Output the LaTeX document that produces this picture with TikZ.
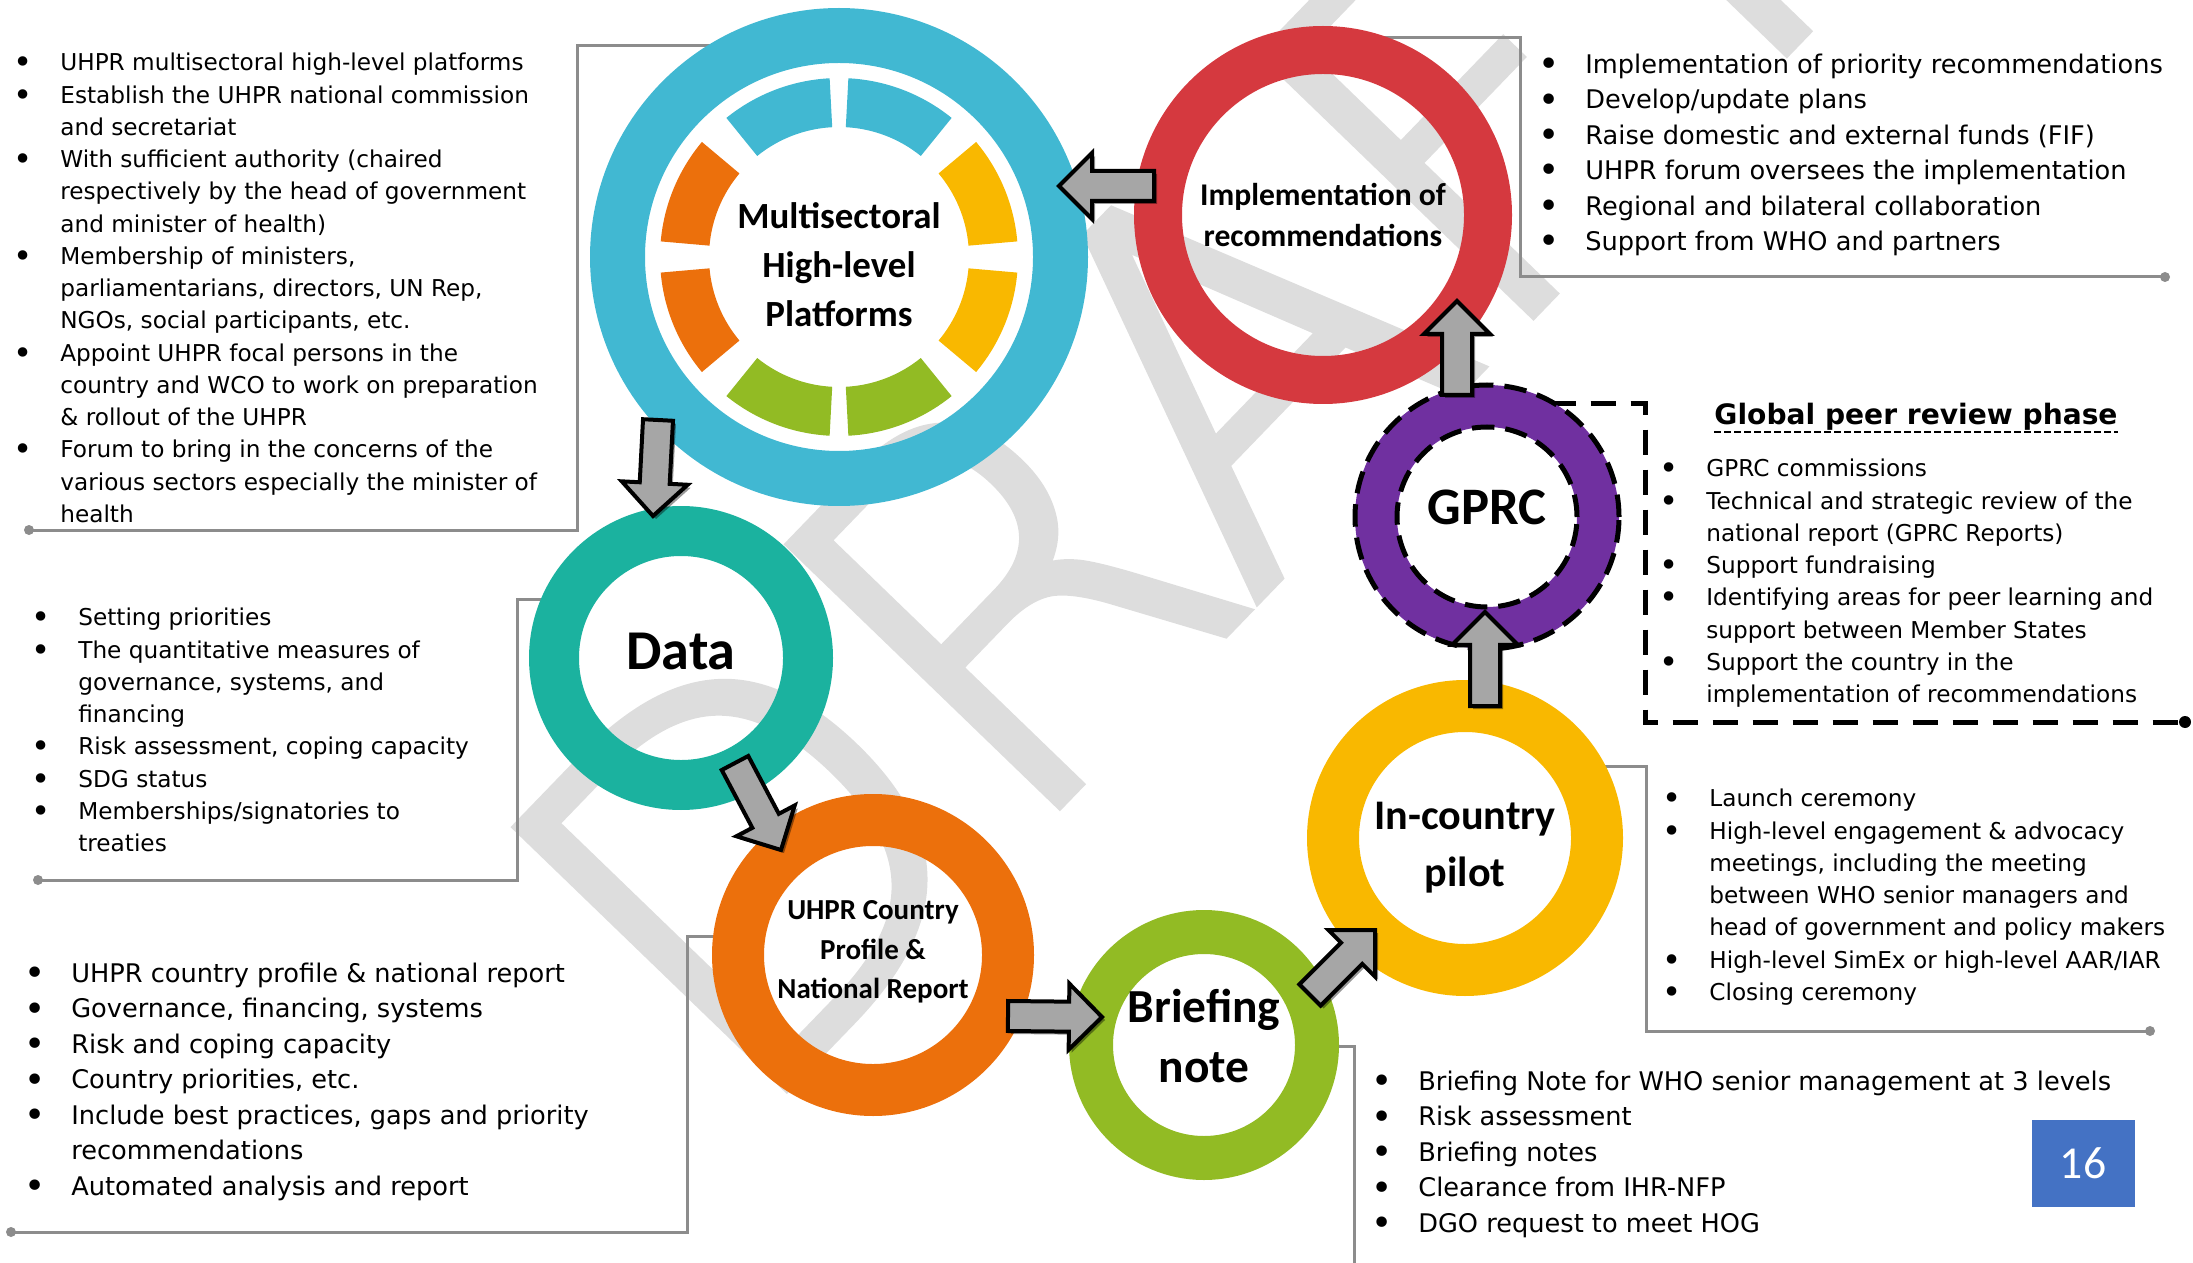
\documentclass[tikz,border=0pt]{standalone}
\usepackage{fontspec}
\usepackage{graphicx}
\setmainfont{DejaVu Sans}
\newfontfamily\circfont{Carlito}
\IfFontExistsTF{DejaVu Sans ExtraLight}{\newfontfamily\wmfont{DejaVu Sans ExtraLight}[FakeBold=2.5]}{\newfontfamily\wmfont{DejaVu Sans}}
\usepackage{tikz}
\usetikzlibrary{calc,shadows,backgrounds}

\definecolor{msblue}{HTML}{41B8D2}
\definecolor{implred}{HTML}{D5393F}
\definecolor{gprcpurple}{HTML}{7030A0}
\definecolor{datateal}{HTML}{1BB29F}
\definecolor{uhprorange}{HTML}{EC700C}
\definecolor{briefgreen}{HTML}{92BB24}
\definecolor{pilotyellow}{HTML}{F9B800}
\definecolor{framegray}{HTML}{8C8C8C}
\definecolor{pageblue}{HTML}{4472C4}
\definecolor{wmgray}{HTML}{DDDDDD}

\newcommand{\bu}{\strut\makebox[0.94cm][l]{\raisebox{-0.13em}{\scalebox{1.4}{\textbullet}}}}
\newcommand{\nb}{\strut\hspace*{0.94cm}}
% grey block arrow from #1 to #2
\newcommand{\blockarrow}[2]{%
  \coordinate (bahead) at ($(#2)!0.66cm!(#1)$);
  \draw[blockarrow] ($(#1)!0.3cm!90:(#2)$) -- ($(bahead)!0.3cm!90:(#2)$)
    -- ($(bahead)!0.66cm!90:(#2)$) -- (#2) -- ($(bahead)!0.66cm!-90:(#2)$)
    -- ($(bahead)!0.3cm!-90:(#2)$) -- ($(#1)!0.3cm!-90:(#2)$) -- cycle;}

\begin{document}
\begin{tikzpicture}[x=0.02cm, y=0.02cm,
    ring/.style={circle, inner sep=0pt, outer sep=0pt},
    ringlabel/.style={inner sep=0pt, align=center},
    notes/.style={anchor=north west, inner sep=0pt, align=left},
    smallnotes/.style={font=\fontsize{13.2}{18.35}\selectfont},
    largenotes/.style={font=\fontsize{14.6}{20.2}\selectfont},
    frameline/.style={draw=framegray, line width=0.06cm},
    gprcline/.style={draw=black, line width=0.1cm, dash pattern=on 0.5cm off 0.3cm},
    ringdash/.style={draw=black, line width=0.1cm, dash pattern=on 0.45cm off 0.22cm},
    blockarrow/.style={fill=gray!70, draw=black, line width=0.08cm, line join=miter,
      drop shadow={shadow xshift=0.06cm, shadow yshift=-0.06cm, opacity=0.4, fill=black}}
]
\useasboundingbox (0,0) rectangle (2193,-1263);
\clip (0,0) rectangle (2193,-1263);

% circles
\node[ring, draw=msblue, line width=1.1cm, minimum size=443*0.02cm] (ms) at (839,-257) {};
\node[ring, draw=implred, line width=0.96cm, minimum size=330*0.02cm] (impl) at (1323,-215) {};
\node[ring, draw=gprcpurple, line width=0.84cm, minimum size=222*0.02cm] (gprc) at (1487,-517) {};
\node[ring, draw=datateal, line width=1.0cm, minimum size=254*0.02cm] (data) at (681,-658) {};
\node[ring, draw=uhprorange, line width=1.04cm, minimum size=270*0.02cm] (uhpr) at (873,-955) {};
\node[ring, draw=briefgreen, line width=0.88cm, minimum size=226*0.02cm] (brief) at (1204,-1045) {};
\node[ring, draw=pilotyellow, line width=1.04cm, minimum size=264*0.02cm] (pilot) at (1465,-838) {};

% circle texts
\node[ringlabel, font=\circfont\bfseries\fontsize{21}{27.8}\selectfont] (mstext) at ($(ms)+(0,-8)$) {Multisectoral\\High-level\\Platforms};
\node[ringlabel, font=\circfont\bfseries\fontsize{18}{23.8}\selectfont] (impltext) at (impl) {Implementation of\\recommendations};
\node[ringlabel, font=\circfont\bfseries\fontsize{30}{36}\selectfont] (gprctext) at ($(gprc)+(0,10)$) {GPRC};
\node[ringlabel, font=\circfont\bfseries\fontsize{32}{38}\selectfont] (datatext) at ($(data)+(0,7)$) {Data};
\node[ringlabel, font=\circfont\bfseries\fontsize{16.5}{22.4}\selectfont] (uhprtext) at ($(uhpr)+(0,3)$) {UHPR Country\\Profile \&\\National Report};
\node[ringlabel, font=\circfont\bfseries\fontsize{27}{34}\selectfont] (brieftext) at ($(brief)+(0,9)$) {Briefing\\note};
\node[ringlabel, font=\circfont\bfseries\fontsize{24}{32.3}\selectfont] (pilottext) at ($(pilot)+(0,-10)$) {In-country\\pilot};

% segments inside the multisectoral circle
\foreach \a/\b/\c in {93/129/msblue, 140/175/uhprorange, 185/220/uhprorange, 231/267/briefgreen,
    273/309/briefgreen, 320/355/pilotyellow, 365/400/pilotyellow, 411/447/msblue}
  \fill[\c] ($(ms.center)+(\a:3.58cm)$) arc[start angle=\a, end angle=\b, radius=3.58cm]
    -- ($(ms.center)+(\b:2.6cm)$) arc[start angle=\b, end angle=\a, radius=2.6cm] -- cycle;

% dashed edges of the GPRC circle
\draw[ringdash] (gprc.center) circle[radius=132*0.02cm];
\draw[ringdash] (gprc.center) circle[radius=90*0.02cm];

% corners of the note frames
\coordinate (fa1) at (577,-46);   \coordinate (fa2) at (577,-530);   \coordinate (fa3) at (29,-530);
\coordinate (fb1) at (1520,-38);  \coordinate (fb2) at (1520,-277);  \coordinate (fb3) at (2165,-277);
\coordinate (fc1) at (1645,-404); \coordinate (fc2) at (1645,-722);  \coordinate (fc3) at (2185,-722);
\coordinate (fd1) at (517,-599);  \coordinate (fd2) at (517,-880);   \coordinate (fd3) at (38,-880);
\coordinate (fe1) at (687,-936);  \coordinate (fe2) at (687,-1232);  \coordinate (fe3) at (11,-1232);
\coordinate (ff1) at (1646,-766); \coordinate (ff2) at (1646,-1031); \coordinate (ff3) at (2150,-1031);
\coordinate (fg1) at (1354,-1046); \coordinate (fg2) at (1354,-1290); \coordinate (fg3) at (2141,-1290);

\begin{pgfonlayer}{background}
% watermark
\node[rotate=46, text=wmgray, inner sep=0pt, font=\wmfont\fontsize{290}{290}\selectfont] (draft) at (1190,-400) {DRAFT};
% frames to the notes
\draw[frameline] (ms.110 |- fa1) -- (fa1) -- (fa2) -- (fa3);
\draw[frameline] (impl.70 |- fb1) -- (fb1) -- (fb2) -- (fb3);
\draw[frameline] (data.200 |- fd1) -- (fd1) -- (fd2) -- (fd3);
\draw[frameline] (uhpr.180 |- fe1) -- (fe1) -- (fe2) -- (fe3);
\draw[frameline] (pilot.340 |- ff1) -- (ff1) -- (ff2) -- (ff3);
\draw[frameline] (brief.0 |- fg1) -- (fg1) -- (fg2) -- (fg3);
\draw[gprcline] (gprc.55 |- fc1) -- (fc1) -- (fc2) -- (fc3);
\foreach \p in {fa3,fb3,fd3,fe3,ff3,fg3} \fill[framegray] (\p) circle[radius=0.1cm];
\fill[black] (fc3) circle[radius=0.12cm];
\end{pgfonlayer}

% arrows
\coordinate (impl-out) at (1154,-186);  \coordinate (ms-in) at (1059,-186);
\coordinate (ms-out) at (658,-420);     \coordinate (data-in) at (653,-516);
\coordinate (data-out) at (735,-763);   \coordinate (uhpr-in) at (781,-850);
\coordinate (uhpr-out) at (1008,-1016); \coordinate (brief-in) at (1102,-1017);
\coordinate (brief-out) at (1310,-995); \coordinate (pilot-in) at (1375,-930);
\coordinate (pilot-out) at (1485,-706); \coordinate (gprc-in) at (1485,-612);
\coordinate (gprc-out) at (1457,-395);  \coordinate (impl-in) at (1457,-301);
\blockarrow{impl-out}{ms-in}
\blockarrow{ms-out}{data-in}
\blockarrow{data-out}{uhpr-in}
\blockarrow{uhpr-out}{brief-in}
\blockarrow{brief-out}{pilot-in}
\blockarrow{pilot-out}{gprc-in}
\blockarrow{gprc-out}{impl-in}

% notes
\node[notes, smallnotes] (msnotes) at (13,-48) {%
\bu UHPR multisectoral high-level platforms\\
\bu Establish the UHPR national commission\\
\nb and secretariat\\
\bu With sufficient authority (chaired\\
\nb respectively by the head of government\\
\nb and minister of health)\\
\bu Membership of ministers,\\
\nb parliamentarians, directors, UN Rep,\\
\nb NGOs, social participants, etc.\\
\bu Appoint UHPR focal persons in the\\
\nb country and WCO to work on preparation\\
\nb \& rollout of the UHPR\\
\bu Forum to bring in the concerns of the\\
\nb various sectors especially the minister of\\
\nb health};

\node[notes, largenotes] (implnotes) at (1538,-48) {%
\bu Implementation of priority recommendations\\
\bu Develop/update plans\\
\bu Raise domestic and external funds (FIF)\\
\bu UHPR forum oversees the implementation\\
\bu Regional and bilateral collaboration\\
\bu Support from WHO and partners};

\node[anchor=base, inner sep=0pt, font=\bfseries\fontsize{16}{19}\selectfont] (gprctitle) at (1916,-425) {Global peer review phase};
\draw[black, line width=0.05cm, dash pattern=on 0.14cm off 0.06cm]
  ($(gprctitle.base west)+(0,-7)$) -- ($(gprctitle.base east)+(0,-7)$);

\node[notes, smallnotes] (gprcnotes) at (1659,-454) {%
\bu GPRC commissions\\
\bu Technical and strategic review of the\\
\nb national report (GPRC Reports)\\
\bu Support fundraising\\
\bu Identifying areas for peer learning and\\
\nb support between Member States\\
\bu Support the country in the\\
\nb implementation of recommendations};

\node[notes, smallnotes] (datanotes) at (31,-603) {%
\bu Setting priorities\\
\bu The quantitative measures of\\
\nb governance, systems, and\\
\nb financing\\
\bu Risk assessment, coping capacity\\
\bu SDG status\\
\bu Memberships/signatories to\\
\nb treaties};

\node[notes, largenotes] (uhprnotes) at (24,-957) {%
\bu UHPR country profile \& national report\\
\bu Governance, financing, systems\\
\bu Risk and coping capacity\\
\bu Country priorities, etc.\\
\bu Include best practices, gaps and priority\\
\nb recommendations\\
\bu Automated analysis and report};

\node[notes, smallnotes] (pilotnotes) at (1662,-784) {%
\bu Launch ceremony\\
\bu High-level engagement \& advocacy\\
\nb meetings, including the meeting\\
\nb between WHO senior managers and\\
\nb head of government and policy makers\\
\bu High-level SimEx or high-level AAR/IAR\\
\bu Closing ceremony};

\node[notes, largenotes] (briefnotes) at (1371,-1065) {%
\bu Briefing Note for WHO senior management at 3 levels\\
\bu Risk assessment\\
\bu Briefing notes\\
\bu Clearance from IHR-NFP\\
\bu DGO request to meet HOG};

% slide number
\node[fill=pageblue, text=white, minimum width=2.06cm, minimum height=1.74cm, inner sep=0pt,
  font=\circfont\fontsize{26}{30}\selectfont] (page) at (2083,-1163) {16};
\end{tikzpicture}
\end{document}
